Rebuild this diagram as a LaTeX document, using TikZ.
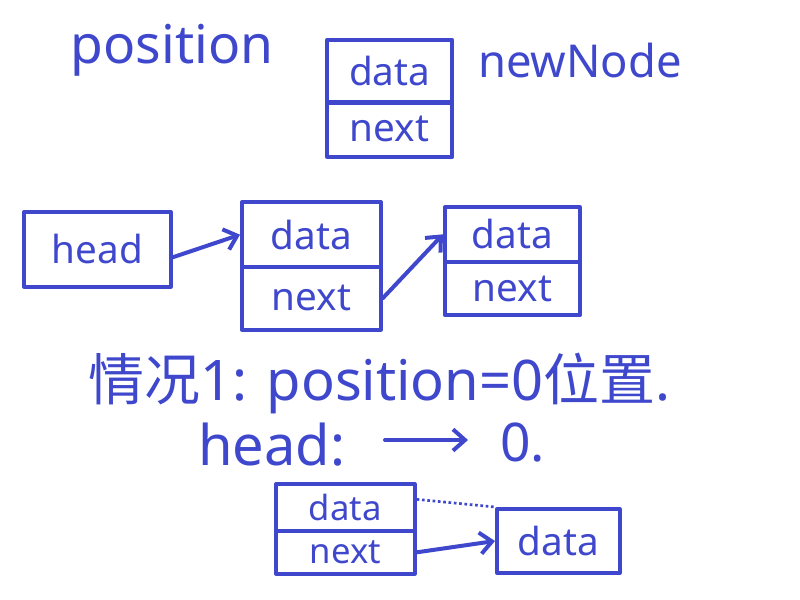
\documentclass[tikz,border=0pt]{standalone}
\usepackage{fontspec}
\setmainfont{Noto Sans}
\newfontfamily\cjk{Noto Sans CJK SC}
\usetikzlibrary{arrows.meta}
\definecolor{ink}{HTML}{3F48CC}
\tikzset{
  ink/.style={draw=ink, line width=3pt, line cap=round, line join=round},
  txt/.style={text=ink, inner sep=0pt},
  cell/.style={ink, minimum height=#1, inner sep=0pt, text=ink, font=\fontsize{29}{32}\selectfont},
  small/.style={font=\fontsize{26}{28}\selectfont},
  arr/.style={ink, -{Straight Barb[length=9pt,width=16pt,line width=3pt]}}
}
\begin{document}
\begin{tikzpicture}[x=0.75pt,y=-0.75pt]
\useasboundingbox (0,0) rectangle (800,600);
% top
\node[txt, font=\fontsize{40}{44}\selectfont] (pos) at (172,50) {position};
\node[cell=47pt, minimum width=94pt, anchor=north west] (nd) at (325,38) {data};
\node[cell=41pt, minimum width=94pt, anchor=north west] (nn) at (325,100) {next};
\node[txt, font=\fontsize{34}{38}\selectfont] (nlab) at (580,60) {newNode};
% middle row
\node[cell=56pt, minimum width=110pt, anchor=north west] (head) at (22,210) {head};
\node[cell=49pt, minimum width=104pt, anchor=north west] (d2) at (240,200) {data};
\node[cell=47pt, minimum width=104pt, anchor=north west] (n2) at (240,265) {next};
\node[cell=41pt, minimum width=101pt, anchor=north west] (d3) at (443,205) {data};
\node[cell=40pt, minimum width=101pt, anchor=north west] (n3) at (443,260) {next};
\draw[arr] (head.east) ++(0,8) coordinate (ha) -- (d2.west);
\draw[arr] (n2.east) -- (d3.west);
% text lines
\node[txt, anchor=west, font=\fontsize{42}{46}\selectfont] (l1) at (88,383) {{\cjk 情况}1: position=0{\cjk 位置}.};
\node[txt, anchor=west, font=\fontsize{42}{46}\selectfont] (l2) at (198,445) {head:};
\coordinate (a1) at (385,440);
\coordinate (a2) at (468,440);
\draw[arr] (a1) -- (a2);
\node[txt, anchor=west, font=\fontsize{40}{44}\selectfont] (zero) at (500,443) {0.};
% bottom
\node[cell=35pt, minimum width=104pt, anchor=north west, small] (d4) at (274,482) {data};
\node[cell=32pt, minimum width=104pt, anchor=north west, small] (n4) at (274,529) {next};
\node[cell=48pt, minimum width=92pt, anchor=north west] (pd) at (495,507) {data};
\draw[arr] (n4.east) -- (pd.west);
\draw[draw=ink, line width=2pt, dotted] (d4.east) ++(0,-8) -- (pd.north west);
\end{tikzpicture}
\end{document}
